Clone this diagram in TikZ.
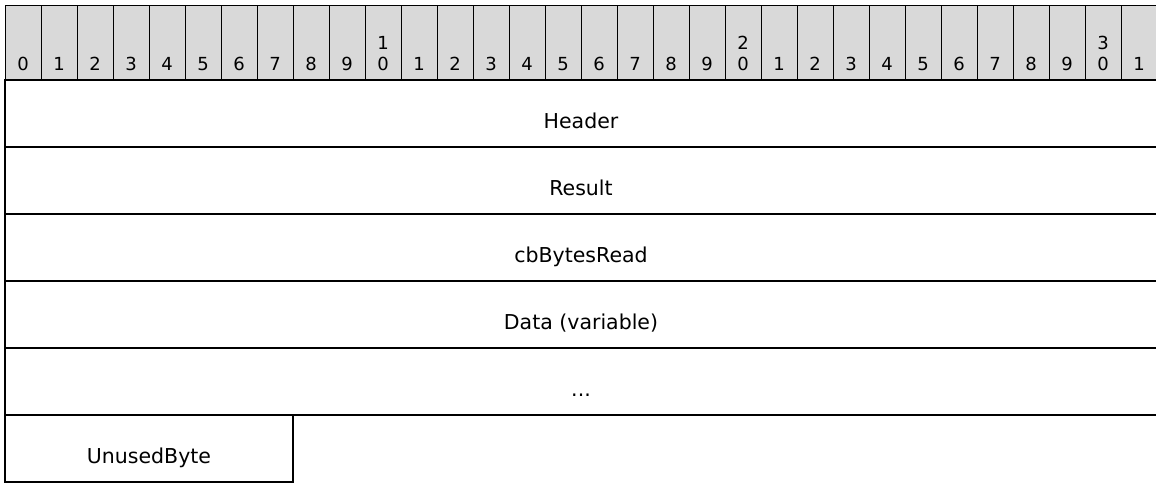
\documentclass[tikz,border=0pt]{standalone}
\usepackage{fontspec}
\setmainfont{DejaVu Sans}
\usetikzlibrary{positioning}
\definecolor{bitgray}{HTML}{D9D9D9}

\begin{document}
\begin{tikzpicture}[
    x=1pt, y=-1pt,
    node distance=0pt,
    bitcell/.style = {draw, fill=bitgray, line width=1pt, minimum width=36pt, minimum height=75pt, inner sep=0pt, outer sep=0pt, anchor=north west},
    digit/.style = {anchor=base, inner sep=0pt, font=\fontsize{18}{21}\selectfont},
    field/.style = {draw, line width=1.2pt, minimum height=67pt, inner sep=0pt, outer sep=0pt},
    fieldtext/.style = {anchor=base, inner sep=0pt, font=\fontsize{20.5}{24}\selectfont}
  ]
  \useasboundingbox (0,0) rectangle (1156,485);
  % Bit numbers.
  \foreach \i in {0,...,31} {
    \pgfmathtruncatemacro{\ones}{mod(\i,10)}
    \pgfmathtruncatemacro{\tens}{\i/10}
    \node[bitcell] (b\i) at (5+36*\i,5) {};
    \node[digit] at ([yshift=10pt]b\i.south) {\ones};
    \ifnum\ones=0 \ifnum\tens>0
      \node[digit] at ([yshift=30.5pt]b\i.south) {\tens};
    \fi\fi
  }
  % Fields.
  \node[field, minimum width=1152pt, anchor=north west] (header) at (5,80) {};
  \node[field, minimum width=1152pt, below=of header] (result) {};
  \node[field, minimum width=1152pt, below=of result] (bytesread) {};
  \node[field, minimum width=1152pt, below=of bytesread] (data) {};
  \node[field, minimum width=1152pt, below=of data] (more) {};
  \node[field, minimum width=288pt, below right=0pt and 0pt of more.south west] (unused) {};
  % Labels.
  \node[fieldtext] at ([yshift=-48pt]header.north) {Header};
  \node[fieldtext] at ([yshift=-48pt]result.north) {Result};
  \node[fieldtext] at ([yshift=-48pt]bytesread.north) {cbBytesRead};
  \node[fieldtext] at ([yshift=-48pt]data.north) {Data (variable)};
  \node[fieldtext] at ([yshift=-48pt]more.north) {...};
  \node[fieldtext] at ([yshift=-48pt]unused.north) {UnusedByte};
\end{tikzpicture}
\end{document}
